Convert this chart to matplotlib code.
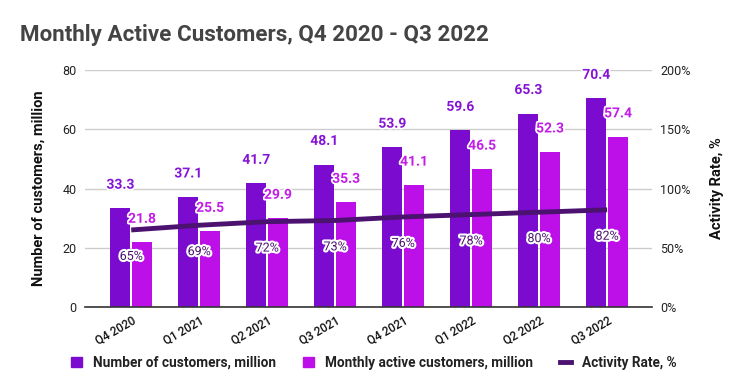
import matplotlib
matplotlib.use("Agg")
import matplotlib.pyplot as plt
import matplotlib.patheffects as pe
from matplotlib.patches import Patch
from matplotlib.lines import Line2D
import numpy as np

plt.rcParams['font.family'] = ['Roboto', 'DejaVu Sans']

categories = ["Q4 2020", "Q1 2021", "Q2 2021", "Q3 2021", "Q4 2021", "Q1 2022", "Q2 2022", "Q3 2022"]
customers = [33.3, 37.1, 41.7, 48.1, 53.9, 59.6, 65.3, 70.4]
active = [21.8, 25.5, 29.9, 35.3, 41.1, 46.5, 52.3, 57.4]
rate = [65, 69, 72, 73, 76, 78, 80, 82]
left_ticks = [0, 20, 40, 60, 80]
right_ticks = [0, 50, 100, 150, 200]

c_dark = "#7a0bcf"
c_light = "#bd10e8"
c_line = "#4b1270"

fig = plt.figure(figsize=(7.47, 3.92), dpi=100)
ax = fig.add_axes([85/747, 1-307/392, (652-85)/747, (307-70)/392])
ax2 = ax.twinx()

x = np.arange(len(categories))
bw = 0.29
gap = 0.015
ax.bar(x - bw/2 - gap, customers, bw, color=c_dark, zorder=2)
ax.bar(x + bw/2 + gap, active, bw, color=c_light, zorder=2)
ax.set_xlim(-0.68, 7.66)
ax.set_ylim(0, 80)
ax.set_yticks(left_ticks)
ax.grid(axis='y', color='#cccccc', linewidth=1, zorder=0)
ax.set_axisbelow(True)
for s in ['top', 'right', 'left']:
    ax.spines[s].set_visible(False)
ax.spines['bottom'].set_color('#333333')
ax.spines['bottom'].set_linewidth(1.2)
ax.tick_params(axis='y', length=0, labelsize=9, labelcolor='#222222', pad=6)
ax.tick_params(axis='x', length=0, labelsize=8.5, labelcolor='#111111', pad=5)
ax.set_xticks(x)
ax.set_xticklabels(categories, rotation=30, ha='right', rotation_mode='anchor', fontweight='medium')
ax.set_ylabel("Number of customers, million", fontsize=10.5, fontweight='bold', color='#111111', labelpad=12)

stroke = [pe.withStroke(linewidth=2.5, foreground='white')]
for xi, v in zip(x, customers):
    ax.annotate(f"{v}", (xi - bw/2 - gap, v), xytext=(0, 17), textcoords='offset points',
                ha='center', va='center', fontsize=10, fontweight='bold', color='#8515d6',
                path_effects=stroke, zorder=5)
for xi, v in zip(x, active):
    ax.annotate(f"{v}", (xi + bw/2 + gap, v), xytext=(0, 17), textcoords='offset points',
                ha='center', va='center', fontsize=10, fontweight='bold', color='#c21ee8',
                path_effects=stroke, zorder=5)

ax2.plot(x, rate, color=c_line, linewidth=3.5, solid_capstyle='butt', zorder=4)
ax2.set_ylim(0, 200)
ax2.set_yticks(right_ticks)
ax2.set_yticklabels([f"{t}%" for t in right_ticks])
for s in ['top', 'right', 'left', 'bottom']:
    ax2.spines[s].set_visible(False)
ax2.tick_params(axis='y', length=0, labelsize=9, labelcolor='#222222', pad=6)
ax2.set_ylabel("Activity Rate, %", fontsize=10.5, fontweight='bold', color='#111111', labelpad=14)
for xi, v in zip(x, rate):
    ax2.annotate(f"{v}%", (xi, v), xytext=(0, -19), textcoords='offset points',
                 ha='center', va='center', fontsize=9, color=c_line,
                 path_effects=[pe.withStroke(linewidth=3, foreground='white')], zorder=6)

fig.text(20/747, 1-35/392, "Monthly Active Customers, Q4 2020 - Q3 2022", fontsize=16.1,
         fontweight='bold', color='#444444', va='center', ha='left')

handles = [Patch(color=c_dark, label="Number of customers, million"),
           Patch(color=c_light, label="Monthly active customers, million"),
           Line2D([0], [0], color=c_line, linewidth=3.5, label="Activity Rate, %")]
leg = fig.legend(handles=handles, loc='center', bbox_to_anchor=(0.5, 1-363/392), ncol=3,
                 frameon=False, prop={'weight': 'bold', 'size': 9.8}, handlelength=0.8,
                 handleheight=0.8, handletextpad=0.8, columnspacing=2.0)
for t in leg.get_texts():
    t.set_color('#222222')

fig.savefig("out.png", dpi=100)
